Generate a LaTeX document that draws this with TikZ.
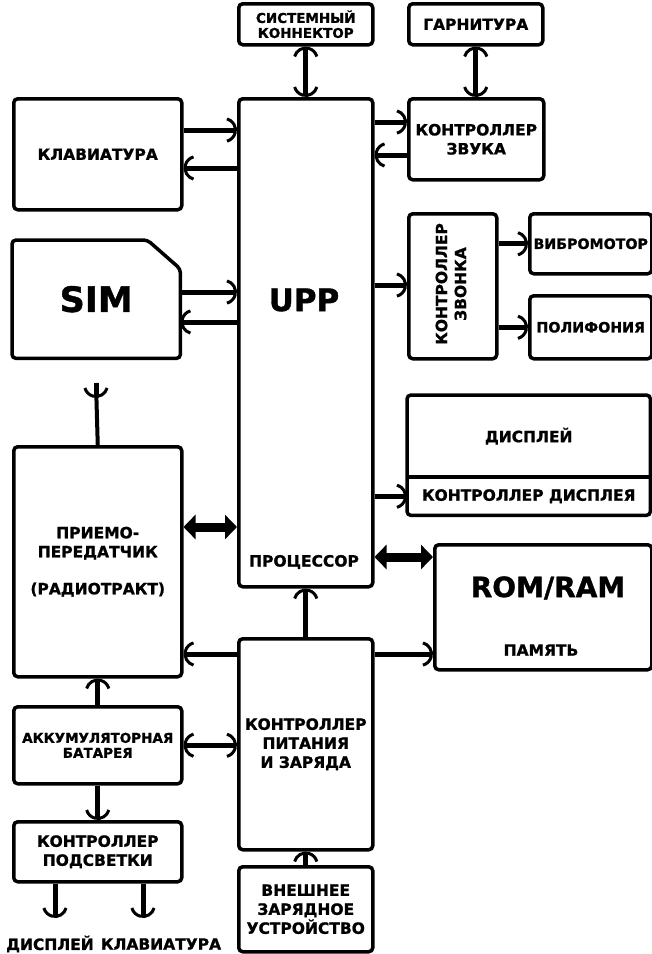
\documentclass[tikz,border=0pt]{standalone}
\usepackage{fontspec}
\setmainfont{DejaVu Sans}
\newfontfamily\heavy{DejaVu Sans Bold}[FakeBold=1.2]
\usetikzlibrary{arrows.meta}

\newcommand\txt{\heavy\fontsize{15.5}{19}\selectfont}
\newcommand\txtsmall{\heavy\fontsize{13.5}{15}\selectfont}
\newcommand\txtmid{\heavy\fontsize{14.2}{18}\selectfont}

\tikzset{
  box/.style={draw, line width=3.5pt, rounded corners=4pt, anchor=north west,
    inner sep=0pt, align=center, font=\txt},
  lbl/.style={inner sep=0pt, align=center, font=\txt},
  frame/.style={line width=3.5pt, rounded corners=4pt},
  barb/.tip={Arc Barb[arc=150,length=13pt,width=26pt,line width=3pt]},
  arr/.style={line width=5pt, -barb},
  dbl/.style={line width=5pt, barb-barb},
  fat/.style={line width=9pt, {Triangle[length=12pt,width=24pt]}-{Triangle[length=12pt,width=24pt]}}
}

\begin{document}
\begin{tikzpicture}[x=1pt, y=-1pt]
  \useasboundingbox (0,0) rectangle (652,954);

  \node[box, minimum width=134pt, minimum height=41pt, font=\txtsmall] (sys) at (237,2) {СИСТЕМНЫЙ\\КОННЕКТОР};
  \node[box, minimum width=134pt, minimum height=41pt] (gar) at (407,2) {ГАРНИТУРА};
  \node[box, minimum width=168pt, minimum height=111pt] (kbd) at (12,97) {КЛАВИАТУРА};
  \node[box, minimum width=134pt, minimum height=488pt] (upp) at (237,97) {};
  \node[lbl, font=\heavy\fontsize{31}{34}\selectfont] (upp-t) at (304,300) {UPP};
  \node[lbl] (upp-b) at (304,562) {ПРОЦЕССОР};
  \node[box, minimum width=135pt, minimum height=81pt] (snd) at (407,97) {КОНТРОЛЛЕР\\ЗВУКА};
  \node[box, minimum width=88pt, minimum height=145pt] (ring) at (407,212) {};
  \node[lbl, rotate=90] (ring-t) at (451,284) {КОНТРОЛЛЕР\\ЗВОНКА};
  \node[box, minimum width=122pt, minimum height=60pt, font=\txtmid] (vib) at (528,212) {ВИБРОМОТОР};
  \node[box, minimum width=122pt, minimum height=63pt, font=\txtmid] (poly) at (528,294) {ПОЛИФОНИЯ};

  \node[lbl, anchor=north west, minimum width=168pt, minimum height=118pt,
    font=\heavy\fontsize{35}{38}\selectfont] (sim) at (12,240) {SIM};
  \draw[frame] (sim.south west) -- (sim.north west) -- ([xshift=-33pt]sim.north east)
    -- ([yshift=-29pt]sim.north east) -- (sim.south east) -- cycle;

  \node[lbl, anchor=north west, minimum width=243pt, minimum height=82pt] (disp) at (407,395) {ДИСПЛЕЙ};
  \node[lbl, anchor=north west, minimum width=243pt, minimum height=38pt] (dctl) at (407,477) {КОНТРОЛЛЕР ДИСПЛЕЯ};
  \draw[frame] (disp.north west) rectangle (dctl.south east);
  \draw[frame] (dctl.north west) -- (dctl.north east);

  \node[box, minimum width=217pt, minimum height=125pt] (rom) at (433,543) {};
  \node[lbl, font=\heavy\fontsize{28}{32}\selectfont] (rom-t) at (548,588) {ROM/RAM};
  \node[lbl] (rom-b) at (541,650) {ПАМЯТЬ};

  \node[box, minimum width=168pt, minimum height=230pt] (trx) at (12,445) {ПРИЕМО-\\ПЕРЕДАТЧИК\\[18pt](РАДИОТРАКТ)};
  \node[box, minimum width=134pt, minimum height=211pt] (pwr) at (237,637) {КОНТРОЛЛЕР\\ПИТАНИЯ\\И ЗАРЯДА};
  \node[box, minimum width=168pt, minimum height=77pt, font=\txtsmall] (bat) at (12,705) {АККУМУЛЯТОРНАЯ\\БАТАРЕЯ};
  \node[box, minimum width=168pt, minimum height=60pt] (bl) at (12,820) {КОНТРОЛЛЕР\\ПОДСВЕТКИ};
  \node[box, minimum width=134pt, minimum height=85pt] (chg) at (237,865) {ВНЕШНЕЕ\\ЗАРЯДНОЕ\\УСТРОЙСТВО};
  \node[lbl] (bl-d) at (50,944) {ДИСПЛЕЙ};
  \node[lbl] (bl-k) at (161,944) {КЛАВИАТУРА};

  \coordinate (ant) at (96,383);
  \coordinate (bd1) at (55,918);
  \coordinate (bd2) at (143,918);

  \draw[dbl] (sys.south) -- (sys.south |- upp.north);
  \draw[dbl] (gar.south) -- (gar.south |- snd.north);
  \draw[arr] (kbd.east |- 0,130) -- (upp.west |- 0,130);
  \draw[arr] (upp.west |- 0,168) -- (kbd.east |- 0,168);
  \draw[arr] (sim.east |- 0,292) -- (upp.west |- 0,292);
  \draw[arr] (upp.west |- 0,322) -- (sim.east |- 0,322);
  \draw[arr] (upp.east |- 0,122) -- (snd.west |- 0,122);
  \draw[arr] (snd.west |- 0,155) -- (upp.east |- 0,155);
  \draw[arr] (upp.east |- 0,285) -- (ring.west |- 0,285);
  \draw[arr] (ring.east |- vib.west) -- (vib.west);
  \draw[arr] (ring.east |- poly.west) -- (poly.west);
  \draw[arr] (upp.east |- dctl.west) -- (dctl.west);
  \draw[fat] (trx.east |- 0,527) -- (upp.west |- 0,527);
  \draw[fat] (upp.east |- 0,557) -- (rom.west |- 0,557);
  \draw[arr] (pwr.north) -- (upp.south);
  \draw[arr] (pwr.west |- 0,654) -- (trx.east |- 0,654);
  \draw[arr] (pwr.east |- 0,654) -- (rom.west |- 0,654);
  \draw[arr] (bat.north) -- (trx.south);
  \draw[dbl] (bat.east) -- (bat.east -| pwr.west);
  \draw[arr] (bat.south) -- (bl.north);
  \draw[arr] (chg.north) -- (pwr.south);
  \draw[line width=4pt] (trx.north) -- (ant);
  \draw[arr] (ant) -- ++(0,15);
  \draw[arr] (bl.south -| bd1) -- (bd1);
  \draw[arr] (bl.south -| bd2) -- (bd2);
\end{tikzpicture}
\end{document}
